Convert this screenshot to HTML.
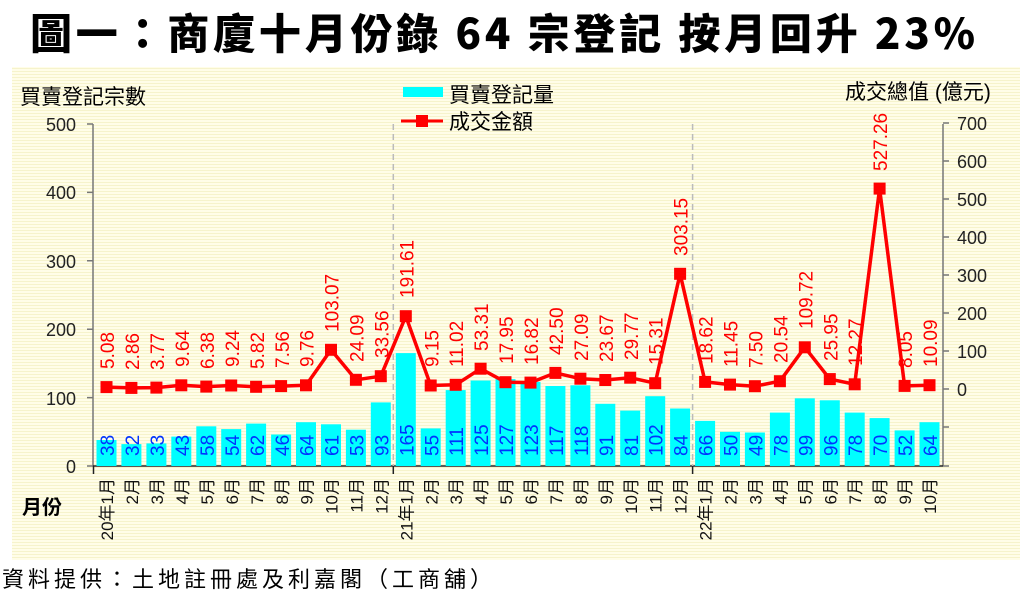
<!DOCTYPE html>
<html><head><meta charset="utf-8"><style>
html,body{margin:0;padding:0;background:#fff;}
body{width:1032px;height:597px;overflow:hidden;position:relative;font-family:"Liberation Sans","Noto Sans CJK TC",sans-serif;}
</style></head><body>
<svg width="1032" height="597" viewBox="0 0 1032 597" xmlns="http://www.w3.org/2000/svg" style="position:absolute;left:0;top:0">
<defs>
<pattern id="st" width="4" height="3" patternUnits="userSpaceOnUse"><rect width="4" height="3" fill="#fffde8"/><rect y="2" width="4" height="1" fill="#f6f3cc"/></pattern>
</defs>
<text x="30" y="49" font-family="'Noto Sans CJK TC',sans-serif" font-weight="900" font-size="42" fill="#000" textLength="945" lengthAdjust="spacing">圖一：商廈十月份錄 64 宗登記  按月回升 23%</text>
<rect x="12" y="67" width="1008" height="493" fill="url(#st)"/>
<g font-family="'Liberation Sans','Noto Sans CJK TC',sans-serif" font-size="21" fill="#000">
<text x="20" y="104">買賣登記宗數</text>
<text x="845" y="99">成交總值 (億元)</text>
<rect x="403" y="87" width="40" height="10" fill="#00ffff"/>
<text x="449" y="102">買賣登記量</text>
<line x1="401" y1="121" x2="443" y2="121" stroke="#f00" stroke-width="3"/><rect x="416" y="115" width="12" height="12" fill="#f00"/>
<text x="449" y="129">成交金額</text>
<text x="22" y="514" font-weight="bold" font-size="20">月份</text>
</g>
<g stroke="#777" stroke-width="1.5" fill="none">
<line x1="93" y1="124" x2="93" y2="466"/>
<line x1="943" y1="124" x2="943" y2="466"/>
<line x1="93" y1="466" x2="943" y2="466" stroke="#222"/>
<path d="M87 124H93M87 192.4H93M87 260.8H93M87 329.2H93M87 397.6H93M87 466H93"/>
<path d="M943 123H949M943 161H949M943 199H949M943 237H949M943 275H949M943 313H949M943 351H949M943 389H949M943 427H949M943 466H949"/>
<path d="M93.5 466V474M393.3 466V474M692.6 466V474" stroke="#222"/>
<path d="M393.3 124V466M692.6 124V466" stroke="#bbb" stroke-dasharray="6,4"/>
</g>
<g font-size="18" fill="#222" text-anchor="end">
<text x="76" y="131">500</text><text x="76" y="199">400</text><text x="76" y="268">300</text><text x="76" y="336">200</text><text x="76" y="405">100</text><text x="76" y="473">0</text>
</g>
<g font-size="18" fill="#222">
<text x="957" y="130">700</text><text x="957" y="168">600</text><text x="957" y="206">500</text><text x="957" y="244">400</text><text x="957" y="282">300</text><text x="957" y="320">200</text><text x="957" y="358">100</text><text x="957" y="396">0</text>
</g>
<g fill="#00ffff">
<rect x="96.5" y="440.0" width="20" height="26.0"/><rect x="121.4" y="444.1" width="20" height="21.9"/><rect x="146.4" y="443.4" width="20" height="22.6"/><rect x="171.3" y="436.6" width="20" height="29.4"/><rect x="196.3" y="426.3" width="20" height="39.7"/><rect x="221.2" y="429.1" width="20" height="36.9"/><rect x="246.1" y="423.6" width="20" height="42.4"/><rect x="271.1" y="434.5" width="20" height="31.5"/><rect x="296.0" y="422.2" width="20" height="43.8"/><rect x="321.0" y="424.3" width="20" height="41.7"/><rect x="345.9" y="429.7" width="20" height="36.3"/><rect x="370.8" y="402.4" width="20" height="63.6"/><rect x="395.8" y="353.1" width="20" height="112.9"/><rect x="420.7" y="428.4" width="20" height="37.6"/><rect x="445.7" y="390.1" width="20" height="75.9"/><rect x="470.6" y="380.5" width="20" height="85.5"/><rect x="495.5" y="379.1" width="20" height="86.9"/><rect x="520.5" y="381.9" width="20" height="84.1"/><rect x="545.4" y="386.0" width="20" height="80.0"/><rect x="570.4" y="385.3" width="20" height="80.7"/><rect x="595.3" y="403.8" width="20" height="62.2"/><rect x="620.2" y="410.6" width="20" height="55.4"/><rect x="645.2" y="396.2" width="20" height="69.8"/><rect x="670.1" y="408.5" width="20" height="57.5"/><rect x="695.1" y="420.9" width="20" height="45.1"/><rect x="720.0" y="431.8" width="20" height="34.2"/><rect x="744.9" y="432.5" width="20" height="33.5"/><rect x="769.9" y="412.6" width="20" height="53.4"/><rect x="794.8" y="398.3" width="20" height="67.7"/><rect x="819.8" y="400.3" width="20" height="65.7"/><rect x="844.7" y="412.6" width="20" height="53.4"/><rect x="869.6" y="418.1" width="20" height="47.9"/><rect x="894.6" y="430.4" width="20" height="35.6"/><rect x="919.5" y="422.2" width="20" height="43.8"/>
</g>
<g font-size="19" fill="#0033ff">
<text transform="translate(114,456) rotate(-90)">38</text><text transform="translate(139,456) rotate(-90)">32</text><text transform="translate(164,456) rotate(-90)">33</text><text transform="translate(189,456) rotate(-90)">43</text><text transform="translate(214,456) rotate(-90)">58</text><text transform="translate(239,456) rotate(-90)">54</text><text transform="translate(264,456) rotate(-90)">62</text><text transform="translate(289,456) rotate(-90)">46</text><text transform="translate(313.5,456) rotate(-90)">64</text><text transform="translate(338.5,456) rotate(-90)">61</text><text transform="translate(363.5,456) rotate(-90)">53</text><text transform="translate(388.5,456) rotate(-90)">93</text><text transform="translate(413.5,456) rotate(-90)">165</text><text transform="translate(438.5,456) rotate(-90)">55</text><text transform="translate(463,456) rotate(-90)">111</text><text transform="translate(488,456) rotate(-90)">125</text><text transform="translate(513,456) rotate(-90)">127</text><text transform="translate(538,456) rotate(-90)">123</text><text transform="translate(563,456) rotate(-90)">117</text><text transform="translate(588,456) rotate(-90)">118</text><text transform="translate(613,456) rotate(-90)">91</text><text transform="translate(638,456) rotate(-90)">81</text><text transform="translate(662.5,456) rotate(-90)">102</text><text transform="translate(687.5,456) rotate(-90)">84</text><text transform="translate(712.5,456) rotate(-90)">66</text><text transform="translate(737.5,456) rotate(-90)">50</text><text transform="translate(762.5,456) rotate(-90)">49</text><text transform="translate(787.5,456) rotate(-90)">78</text><text transform="translate(812.5,456) rotate(-90)">99</text><text transform="translate(837.5,456) rotate(-90)">96</text><text transform="translate(862,456) rotate(-90)">78</text><text transform="translate(887,456) rotate(-90)">70</text><text transform="translate(912,456) rotate(-90)">52</text><text transform="translate(937,456) rotate(-90)">64</text>
</g>
<polyline fill="none" stroke="#f00" stroke-width="3.5" stroke-linejoin="round" points="106.5,387.1 131.4,387.9 156.4,387.6 181.3,385.3 206.3,386.6 231.2,385.5 256.1,386.8 281.1,386.1 306.0,385.3 331.0,349.8 355.9,379.8 380.8,376.2 405.8,316.2 430.7,385.5 455.7,384.8 480.6,368.7 505.5,382.2 530.5,382.6 555.4,372.9 580.4,378.7 605.3,380.0 630.2,377.7 655.2,383.2 680.1,273.8 705.1,381.9 730.0,384.6 754.9,386.2 779.9,381.2 804.8,347.3 829.8,379.1 854.7,384.3 879.6,188.6 904.6,385.9 929.5,385.2"/>
<g fill="#f00">
<rect x="100.5" y="381.1" width="12" height="12"/><rect x="125.4" y="381.9" width="12" height="12"/><rect x="150.4" y="381.6" width="12" height="12"/><rect x="175.3" y="379.3" width="12" height="12"/><rect x="200.3" y="380.6" width="12" height="12"/><rect x="225.2" y="379.5" width="12" height="12"/><rect x="250.1" y="380.8" width="12" height="12"/><rect x="275.1" y="380.1" width="12" height="12"/><rect x="300.0" y="379.3" width="12" height="12"/><rect x="325.0" y="343.8" width="12" height="12"/><rect x="349.9" y="373.8" width="12" height="12"/><rect x="374.8" y="370.2" width="12" height="12"/><rect x="399.8" y="310.2" width="12" height="12"/><rect x="424.7" y="379.5" width="12" height="12"/><rect x="449.7" y="378.8" width="12" height="12"/><rect x="474.6" y="362.7" width="12" height="12"/><rect x="499.5" y="376.2" width="12" height="12"/><rect x="524.5" y="376.6" width="12" height="12"/><rect x="549.4" y="366.9" width="12" height="12"/><rect x="574.4" y="372.7" width="12" height="12"/><rect x="599.3" y="374.0" width="12" height="12"/><rect x="624.2" y="371.7" width="12" height="12"/><rect x="649.2" y="377.2" width="12" height="12"/><rect x="674.1" y="267.8" width="12" height="12"/><rect x="699.1" y="375.9" width="12" height="12"/><rect x="724.0" y="378.6" width="12" height="12"/><rect x="748.9" y="380.2" width="12" height="12"/><rect x="773.9" y="375.2" width="12" height="12"/><rect x="798.8" y="341.3" width="12" height="12"/><rect x="823.8" y="373.1" width="12" height="12"/><rect x="848.7" y="378.3" width="12" height="12"/><rect x="873.6" y="182.6" width="12" height="12"/><rect x="898.6" y="379.9" width="12" height="12"/><rect x="923.5" y="379.2" width="12" height="12"/>
</g>
<g font-size="19" fill="#f00">
<text transform="translate(114,369) rotate(-90)">5.08</text><text transform="translate(139,370) rotate(-90)">2.86</text><text transform="translate(164,370) rotate(-90)">3.77</text><text transform="translate(189,367) rotate(-90)">9.64</text><text transform="translate(214,369) rotate(-90)">6.38</text><text transform="translate(239,367) rotate(-90)">9.24</text><text transform="translate(264,369) rotate(-90)">5.82</text><text transform="translate(289,368) rotate(-90)">7.56</text><text transform="translate(313.5,367) rotate(-90)">9.76</text><text transform="translate(338.5,332) rotate(-90)">103.07</text><text transform="translate(363.5,362) rotate(-90)">24.09</text><text transform="translate(388.5,358) rotate(-90)">33.56</text><text transform="translate(413.5,298) rotate(-90)">191.61</text><text transform="translate(438.5,367) rotate(-90)">9.15</text><text transform="translate(463,367) rotate(-90)">11.02</text><text transform="translate(488,351) rotate(-90)">53.31</text><text transform="translate(513,364) rotate(-90)">17.95</text><text transform="translate(538,365) rotate(-90)">16.82</text><text transform="translate(563,355) rotate(-90)">42.50</text><text transform="translate(588,361) rotate(-90)">27.09</text><text transform="translate(613,362) rotate(-90)">23.67</text><text transform="translate(638,360) rotate(-90)">29.77</text><text transform="translate(662.5,365) rotate(-90)">15.31</text><text transform="translate(687.5,256) rotate(-90)">303.15</text><text transform="translate(712.5,364) rotate(-90)">18.62</text><text transform="translate(737.5,367) rotate(-90)">11.45</text><text transform="translate(762.5,368) rotate(-90)">7.50</text><text transform="translate(787.5,363) rotate(-90)">20.54</text><text transform="translate(812.5,329) rotate(-90)">109.72</text><text transform="translate(837.5,361) rotate(-90)">25.95</text><text transform="translate(862,366) rotate(-90)">12.27</text><text transform="translate(887,171) rotate(-90)">527.26</text><text transform="translate(912,368) rotate(-90)">8.05</text><text transform="translate(937,367) rotate(-90)">10.09</text>
</g>
<g font-size="17" fill="#111" text-anchor="end">
<text transform="translate(113,478) rotate(-90)">20年1月</text><text transform="translate(138,478) rotate(-90)">2月</text><text transform="translate(163,478) rotate(-90)">3月</text><text transform="translate(188,478) rotate(-90)">4月</text><text transform="translate(213,478) rotate(-90)">5月</text><text transform="translate(238,478) rotate(-90)">6月</text><text transform="translate(263,478) rotate(-90)">7月</text><text transform="translate(288,478) rotate(-90)">8月</text><text transform="translate(312.5,478) rotate(-90)">9月</text><text transform="translate(337.5,478) rotate(-90)">10月</text><text transform="translate(362.5,478) rotate(-90)">11月</text><text transform="translate(387.5,478) rotate(-90)">12月</text><text transform="translate(412.5,478) rotate(-90)">21年1月</text><text transform="translate(437.5,478) rotate(-90)">2月</text><text transform="translate(462,478) rotate(-90)">3月</text><text transform="translate(487,478) rotate(-90)">4月</text><text transform="translate(512,478) rotate(-90)">5月</text><text transform="translate(537,478) rotate(-90)">6月</text><text transform="translate(562,478) rotate(-90)">7月</text><text transform="translate(587,478) rotate(-90)">8月</text><text transform="translate(612,478) rotate(-90)">9月</text><text transform="translate(637,478) rotate(-90)">10月</text><text transform="translate(661.5,478) rotate(-90)">11月</text><text transform="translate(686.5,478) rotate(-90)">12月</text><text transform="translate(711.5,478) rotate(-90)">22年1月</text><text transform="translate(736.5,478) rotate(-90)">2月</text><text transform="translate(761.5,478) rotate(-90)">3月</text><text transform="translate(786.5,478) rotate(-90)">4月</text><text transform="translate(811.5,478) rotate(-90)">5月</text><text transform="translate(836.5,478) rotate(-90)">6月</text><text transform="translate(861,478) rotate(-90)">7月</text><text transform="translate(886,478) rotate(-90)">8月</text><text transform="translate(911,478) rotate(-90)">9月</text><text transform="translate(936,478) rotate(-90)">10月</text>
</g>
<text x="2" y="587" font-size="22" letter-spacing="4" fill="#000" font-family="'Noto Sans CJK TC',sans-serif">資料提供：土地註冊處及利嘉閣（工商舖）</text>
</svg>
</body></html>
